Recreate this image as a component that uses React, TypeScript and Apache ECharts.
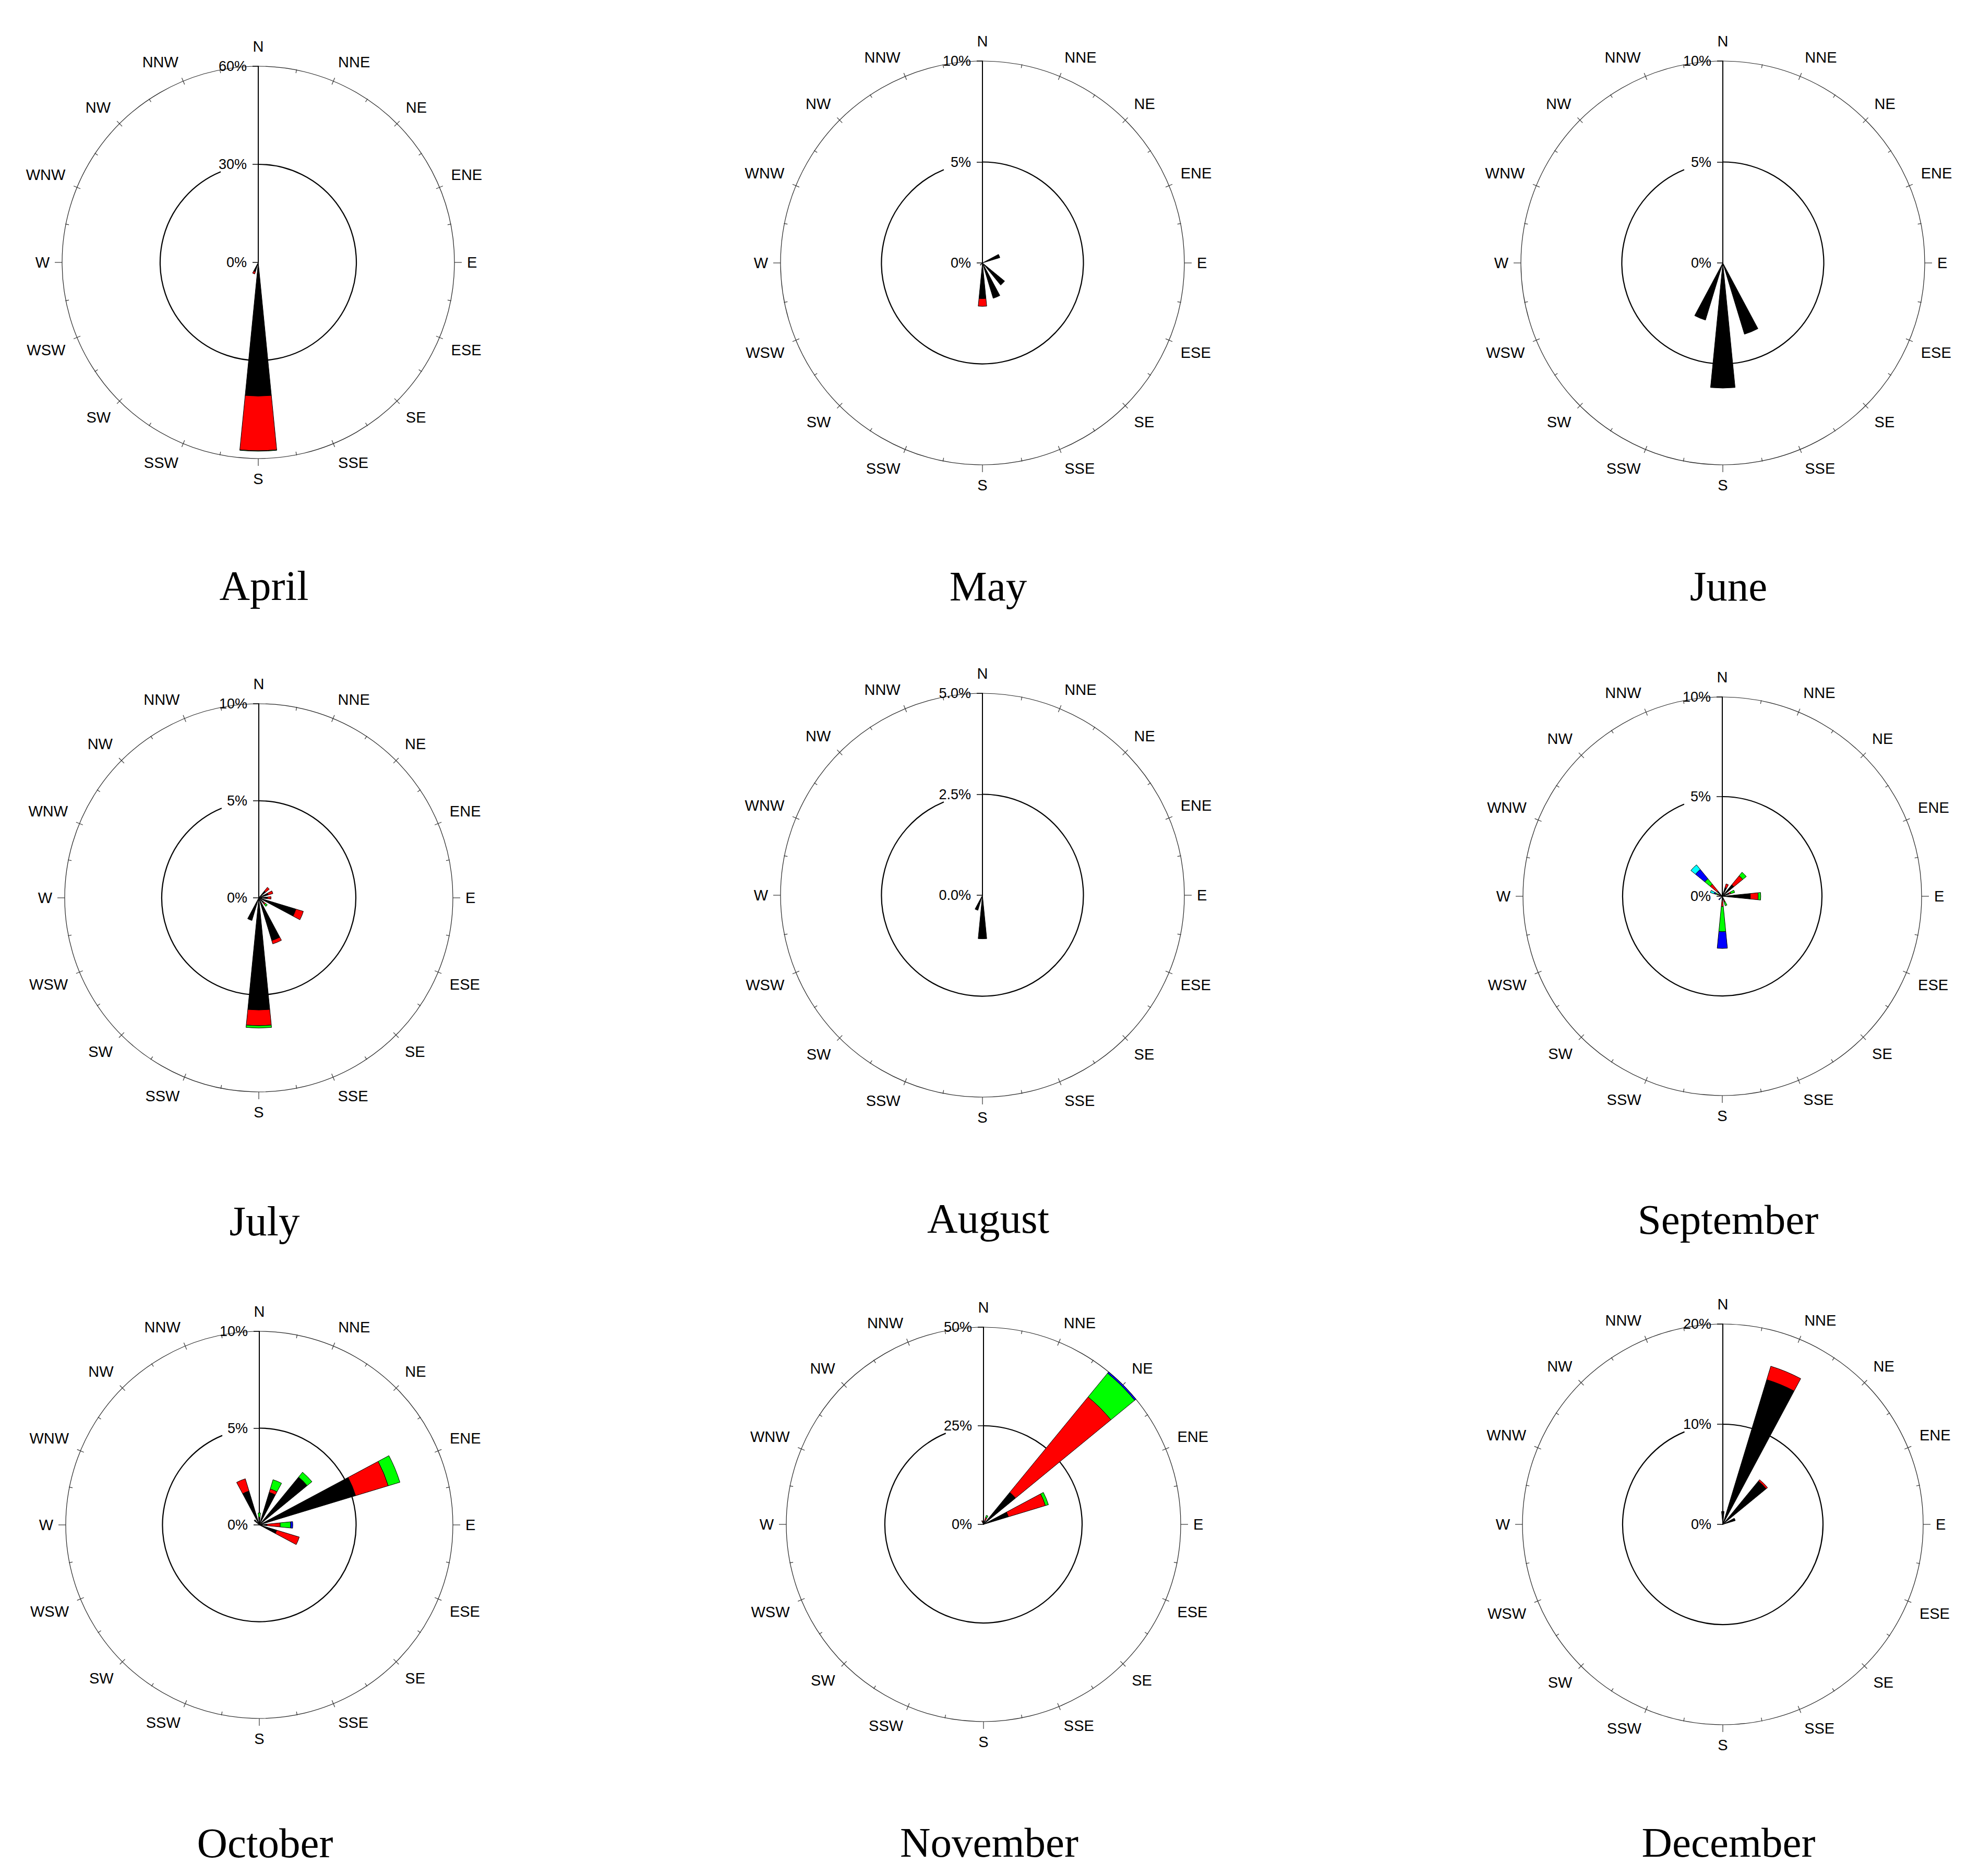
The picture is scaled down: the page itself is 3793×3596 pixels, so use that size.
import React, { useEffect, useRef } from 'react';
import * as echarts from 'echarts';

// ---------- categories & labels ----------
const directions = ['N', 'NNE', 'NE', 'ENE', 'E', 'ESE', 'SE', 'SSE', 'S', 'SSW', 'SW', 'WSW', 'W', 'WNW', 'NW', 'NNW'];
const months = ['April', 'May', 'June', 'July', 'August', 'September', 'October', 'November', 'December'];
const radiusMax = [60, 10, 10, 10, 5, 10, 10, 50, 20];
const radiusTickLabels = [
  ['0%', '30%', '60%'],
  ['0%', '5%', '10%'],
  ['0%', '5%', '10%'],
  ['0%', '5%', '10%'],
  ['0.0%', '2.5%', '5.0%'],
  ['0%', '5%', '10%'],
  ['0%', '5%', '10%'],
  ['0%', '25%', '50%'],
  ['0%', '10%', '20%'],
];

// ---------- frequencies (%) per speed class, order: N NNE NE ENE E ESE SE SSE S SSW SW WSW W WNW NW NNW ----------
const aprilBlack = [0, 0, 0, 0, 0, 0, 0, 0, 40.9, 3.0, 0, 0, 0, 0, 0, 0];
const aprilRed = [0, 0, 0, 0, 0, 0, 0, 0, 16.7, 0.7, 0, 0, 0, 0, 0, 0];
const aprilGreen = [0, 0, 0, 0, 0, 0, 0, 0, 0.15, 0, 0, 0, 0, 0, 0, 0];

const mayBlack = [0, 0, 0, 0.9, 0, 0, 1.42, 1.83, 1.77, 0, 0.15, 0, 0, 0, 0, 0];
const mayRed = [0, 0, 0, 0, 0, 0, 0, 0, 0.38, 0, 0, 0, 0, 0, 0, 0];

const juneBlack = [0, 0, 0, 0, 0, 0, 0, 3.69, 6.2, 2.96, 0, 0, 0, 0, 0, 0];

const julyBlack = [0, 0, 0.45, 0.5, 0.45, 2.0, 0.35, 2.3, 5.78, 1.22, 0, 0, 0, 0, 0, 0];
const julyRed = [0, 0, 0.25, 0.26, 0.18, 0.4, 0.1, 0.18, 0.81, 0, 0, 0, 0, 0, 0, 0];
const julyGreen = [0, 0, 0, 0, 0, 0, 0.12, 0, 0.12, 0, 0, 0, 0, 0, 0, 0];

const augustBlack = [0, 0, 0, 0, 0, 0, 0, 0, 1.08, 0.39, 0, 0, 0, 0, 0, 0];

const septemberBlack = [0, 0.45, 0.75, 0.35, 1.41, 0, 0, 0.2, 0.22, 0, 0.12, 0, 0, 0.2, 0.33, 0];
const septemberRed = [0, 0.2, 0.58, 0.1, 0.39, 0, 0, 0.1, 0.3, 0, 0, 0, 0, 0.05, 0.46, 0];
const septemberGreen = [0, 0, 0.23, 0.2, 0.13, 0, 0, 0.2, 1.26, 0, 0, 0, 0, 0.1, 0.35, 0];
const septemberBlue = [0, 0, 0, 0, 0, 0, 0, 0, 0.84, 0, 0.12, 0, 0, 0.08, 0.6, 0];
const septemberCyan = [0, 0, 0, 0, 0, 0, 0, 0, 0, 0, 0, 0, 0, 0.2, 0.3, 0];

const octoberBlack = [0.35, 1.76, 3.2, 5.2, 0.4, 0.94, 0, 0, 0, 0, 0, 0, 0, 0, 0.35, 1.83];
const octoberRed = [0.05, 0.18, 0, 1.76, 0.68, 1.22, 0, 0, 0, 0, 0, 0, 0, 0, 0, 0.66];
const octoberGreen = [0.22, 0.5, 0.32, 0.63, 0.54, 0, 0, 0, 0, 0, 0, 0, 0, 0, 0, 0];
const octoberBlue = [0, 0, 0, 0, 0.11, 0, 0, 0, 0, 0, 0, 0, 0, 0, 0, 0];

const novemberBlack = [0, 1.0, 10.5, 6.6, 0, 0, 0, 0, 0, 0, 0, 0, 0, 0, 0, 0.5];
const novemberRed = [0, 0.8, 31.3, 9.8, 0, 0, 0, 0, 0, 0, 0, 0, 0, 0, 0, 0.5];
const novemberGreen = [0, 0.6, 7.8, 0.8, 0, 0, 0, 0, 0, 0, 0, 0, 0, 0, 0, 0];
const novemberBlue = [0, 0, 0.5, 0, 0, 0, 0, 0, 0, 0, 0, 0, 0, 0, 0, 0];

const decemberBlack = [1.3, 15.1, 5.6, 1.3, 0, 0, 0, 0, 0, 0, 0, 0, 0, 0, 0, 0];
const decemberRed = [0, 1.4, 0.18, 0, 0, 0, 0, 0, 0, 0, 0, 0, 0, 0, 0, 0];

const monthData: number[][][] = [
  [aprilBlack, aprilRed, aprilGreen],
  [mayBlack, mayRed],
  [juneBlack],
  [julyBlack, julyRed, julyGreen],
  [augustBlack],
  [septemberBlack, septemberRed, septemberGreen, septemberBlue, septemberCyan],
  [octoberBlack, octoberRed, octoberGreen, octoberBlue],
  [novemberBlack, novemberRed, novemberGreen, novemberBlue],
  [decemberBlack, decemberRed],
];

// ---------- layout & style ----------
const speedColors = ['#000000', '#ff0000', '#00ff00', '#0000ff', '#00ffff'];
const centers = [
  [495, 503], [1883, 504], [3302, 504],
  [496, 1721], [1883, 1716], [3301, 1718],
  [497, 2923], [1885, 2922], [3302, 2922],
];
const radii = [376, 387, 387, 372, 387, 382, 371, 378, 384];
const titleOffsets = [620, 620, 620, 620, 620, 620, 610, 610, 610];
const sansFont = '"Liberation Sans", Arial, Helvetica, sans-serif';

function buildOption() {
  const polar = centers.map((c, i) => ({ center: [c[0], c[1]], radius: radii[i] }));

  const angleAxis = centers.map((_, i) => ({
    polarIndex: i,
    type: 'category',
    data: directions,
    startAngle: 90,
    clockwise: true,
    boundaryGap: false,
    axisLine: { show: false },
    axisTick: { show: false },
    splitLine: { show: false },
    axisLabel: { show: true, interval: 0, margin: 24, color: '#000', fontSize: 29, fontFamily: sansFont },
  }));

  const radiusAxis = centers.map((_, i) => {
    const max = radiusMax[i];
    const step = max / 2;
    return {
      polarIndex: i,
      type: 'value',
      min: 0,
      max,
      interval: step,
      axisLine: { show: true, lineStyle: { color: '#000', width: 2 } },
      axisTick: { show: true, inside: true, length: 11, lineStyle: { color: '#000', width: 1.5 } },
      axisLabel: {
        show: true,
        margin: 22,
        color: '#000',
        fontSize: 27,
        fontFamily: sansFont,
        formatter: (v: number) => radiusTickLabels[i][Math.round(v / step)] ?? '',
      },
      splitLine: { show: true, lineStyle: { color: ['rgba(0,0,0,0)', '#000', 'rgba(0,0,0,0)'], width: 2.2 } },
    };
  });

  const series: any[] = [];
  monthData.forEach((bins, p) => {
    bins.forEach((vals, s) => {
      series.push({
        type: 'bar',
        coordinateSystem: 'polar',
        polarIndex: p,
        stack: 'month' + p,
        barWidth: '50%',
        data: vals.map((v) => (v > 0 ? v : '-')),
        itemStyle: { color: speedColors[s], borderColor: '#000', borderWidth: 1 },
        silent: true,
        z: 3,
      });
    });
  });

  const graphic: any[] = [];
  centers.forEach(([cx, cy], p) => {
    const r = radii[p];
    // outer frame circle
    graphic.push({
      type: 'circle',
      silent: true,
      z: -1,
      shape: { cx, cy, r },
      style: { fill: 'none', stroke: '#222', lineWidth: 1.2 },
    });
    for (let k = 1; k < 32; k++) {
      const a = (k * 11.25 * Math.PI) / 180;
      const sx = Math.sin(a);
      const sy = -Math.cos(a);
      let r1: number;
      let r2: number;
      if (k % 8 === 0) {
        r1 = r; r2 = r + 14;
      } else if (k % 2 === 0) {
        r1 = r - 7; r2 = r + 7;
      } else {
        r1 = r - 6; r2 = r + 1;
      }
      graphic.push({
        type: 'line',
        silent: true,
        z: -1,
        shape: { x1: cx + sx * r1, y1: cy + sy * r1, x2: cx + sx * r2, y2: cy + sy * r2 },
        style: { stroke: '#333', lineWidth: 1.2 },
      });
    }
    graphic.push({
      type: 'text',
      silent: true,
      x: cx + 11,
      y: cy + titleOffsets[p],
      style: {
        text: months[p],
        fontSize: 81,
        fontFamily: '"Liberation Serif", "Times New Roman", serif',
        fill: '#000',
        align: 'center',
        verticalAlign: 'middle',
      },
    });
  });

  return {
    animation: false,
    backgroundColor: '#ffffff',
    polar,
    angleAxis,
    radiusAxis,
    series,
    graphic,
  };
}

export default function App() {
  const ref = useRef<HTMLDivElement>(null);
  useEffect(() => {
    if (!ref.current) return;
    const chart = echarts.init(ref.current, undefined, { renderer: 'svg' });
    chart.setOption(buildOption() as any);
    return () => chart.dispose();
  }, []);
  return (
    <div
      ref={ref}
      style={{ position: 'absolute', left: 0, top: 0, width: 3793, height: 3596, background: '#fff' }}
    />
  );
}
